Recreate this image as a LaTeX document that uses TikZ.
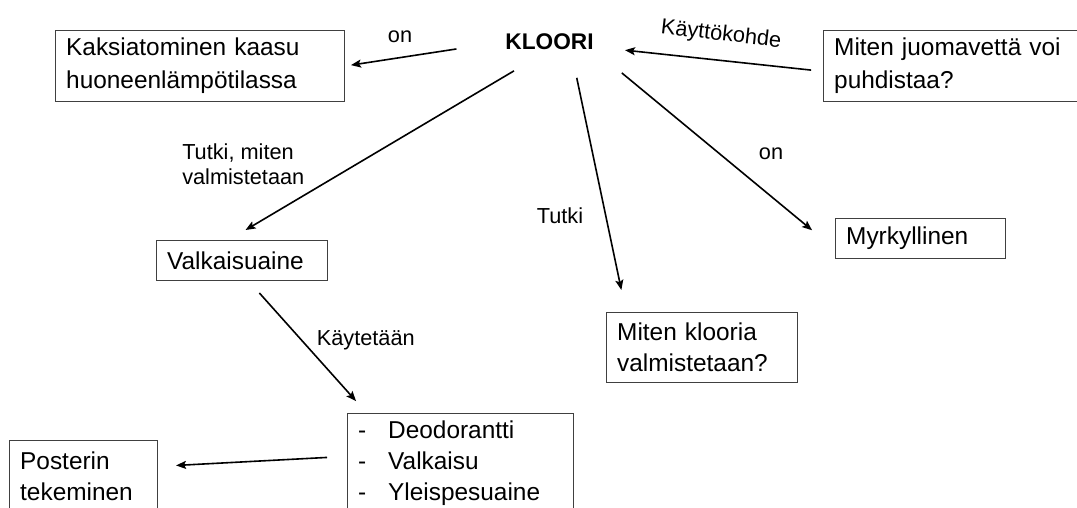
\documentclass[tikz,border=0pt]{standalone}
\usepackage{fontspec}
\setmainfont{Liberation Sans}
\usetikzlibrary{arrows.meta}
\newcommand{\listdash}{\makebox[22.5pt][l]{-}}
\tikzset{
  box/.style={draw=black!75, line width=0.8pt, anchor=north west, align=left,
    inner xsep=8pt, inner ysep=0pt, font=\fontsize{18.3}{23}\selectfont},
  widebox/.style={box, font=\fontsize{18.3}{24.75}\selectfont},
  lbl/.style={inner sep=0pt, font=\fontsize{16.3}{19}\selectfont},
  arr/.style={-{Stealth[length=7.5pt,width=6pt,inset=1.5pt]}, line width=1.2pt},
}
\begin{document}
\begin{tikzpicture}[x=0.75pt,y=-0.75pt]
\useasboundingbox (0,0) rectangle (1077,507);

\node[inner sep=0pt, font=\fontsize{17}{20}\selectfont\bfseries] (kloori) at (549.5,41.5) {KLOORI};

\node[widebox, text width=200.75pt, minimum height=53.25pt] (kaksi) at (55,30) {Kaksiatominen kaasu\\huoneenlämpötilassa};
\node[widebox, text width=182.75pt, minimum height=53.25pt] (juoma) at (823,30) {Miten juomavettä voi\\puhdistaa?};
\node[box, text width=112.25pt, minimum height=30pt] (valk) at (156,240) {Valkaisuaine};
\node[box, text width=111.5pt, minimum height=30pt] (myrk) at (835,218) {Myrkyllinen};
\node[box, text width=127.25pt, minimum height=52.5pt] (kmiten) at (606,312) {Miten klooria\\valmistetaan?};
\node[box, text width=153.5pt, minimum height=74.25pt] (lista) at (347,413) {\listdash Deodorantti\\\listdash Valkaisu\\\listdash Yleispesuaine};
\node[box, text width=95pt, minimum height=54pt] (poster) at (9,440) {Posterin\\tekeminen};

\node[lbl] (on1) at (400,37) {on};
\node[lbl, rotate=-6.5] (kaytto) at (721,35) {Käyttökohde};
\node[lbl, anchor=west, align=left] (tutki1) at (182,164.5) {Tutki, miten\\valmistetaan};
\node[lbl] (tutki2) at (560,216) {Tutki};
\node[lbl] (on2) at (771,154) {on};
\node[lbl, anchor=east] (kaytetaan) at (415,340) {Käytetään};

\draw[arr, shorten <=37pt, shorten >=4.5pt] (kloori.west) -- (kaksi.east);
\draw[arr, shorten <=9pt, shorten >=23.5pt] ([yshift=-4pt]juoma.west) -- ([yshift=-4pt]kloori.east);
\draw[arr, shorten <=31pt, shorten >=14.7pt] (kloori.south) -- ([xshift=-10pt]valk.north);
\draw[arr, shorten <=21.5pt, shorten >=16.9pt] ([xshift=16pt]kloori.south) -- ([xshift=15pt]kmiten.north west);
\draw[arr, shorten <=27.2pt, shorten >=22.3pt] (kloori.south east) -- ([yshift=-8pt]myrk.west);
\draw[arr, shorten <=12pt, shorten >=12pt] ([xshift=5pt]valk.south) -- ([xshift=14.8pt]lista.north west);
\draw[arr, shorten <=15pt, shorten >=13.5pt] ([yshift=5pt]lista.west) -- ([yshift=7.6pt]poster.east);
\end{tikzpicture}
\end{document}
